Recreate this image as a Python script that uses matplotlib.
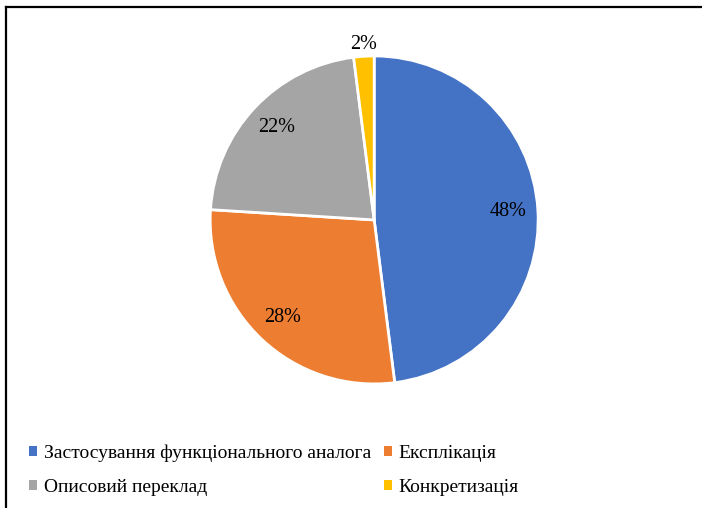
import matplotlib.pyplot as plt
from matplotlib.patches import Patch

plt.rcParams['font.family'] = ['Liberation Serif', 'DejaVu Serif']

labels = ["Застосування функціонального аналога", "Експлікація", "Описовий переклад", "Конкретизація"]
values = [48, 28, 22, 2]
colors = ["#4472C4", "#ED7D31", "#A5A5A5", "#FFC000"]

fig = plt.figure(figsize=(7.02, 5.08), dpi=100)
ax = fig.add_axes([0.533 - 0.2336, 0.567 - 0.3228, 0.4672, 0.6457])

wedges, texts, autotexts = ax.pie(values, colors=colors, startangle=90, counterclock=False,
                                  autopct='%1.0f%%', pctdistance=0.82,
                                  wedgeprops=dict(edgecolor='white', linewidth=2),
                                  textprops=dict(fontsize=14.5, color='black'))
# small slice label sits outside
x, y = autotexts[3].get_position()
autotexts[3].set_position((x * 1.31, y * 1.31))
ax.set_aspect('equal')
ax.set_xlim(-1, 1)
ax.set_ylim(-1, 1)

# legend order: row 1 blue/orange, row 2 gray/yellow
order = [0, 2, 1, 3]
handles = [Patch(facecolor=colors[i], edgecolor='none') for i in order]
fig.legend(handles, [labels[i] for i in order], ncol=2, loc='lower left',
           bbox_to_anchor=(0.017, -0.01), frameon=False, fontsize=14,
           handlelength=0.4, handleheight=0.4, handletextpad=0.35,
           columnspacing=0.65, labelspacing=0.85)

# frame lines (top and left)
fig.add_artist(plt.Line2D([0.009, 1.0], [0.986, 0.986], color='black', lw=1.6, transform=fig.transFigure))
fig.add_artist(plt.Line2D([0.009, 0.009], [0.0, 0.986], color='black', lw=1.6, transform=fig.transFigure))

plt.savefig("out.png", dpi=100)
